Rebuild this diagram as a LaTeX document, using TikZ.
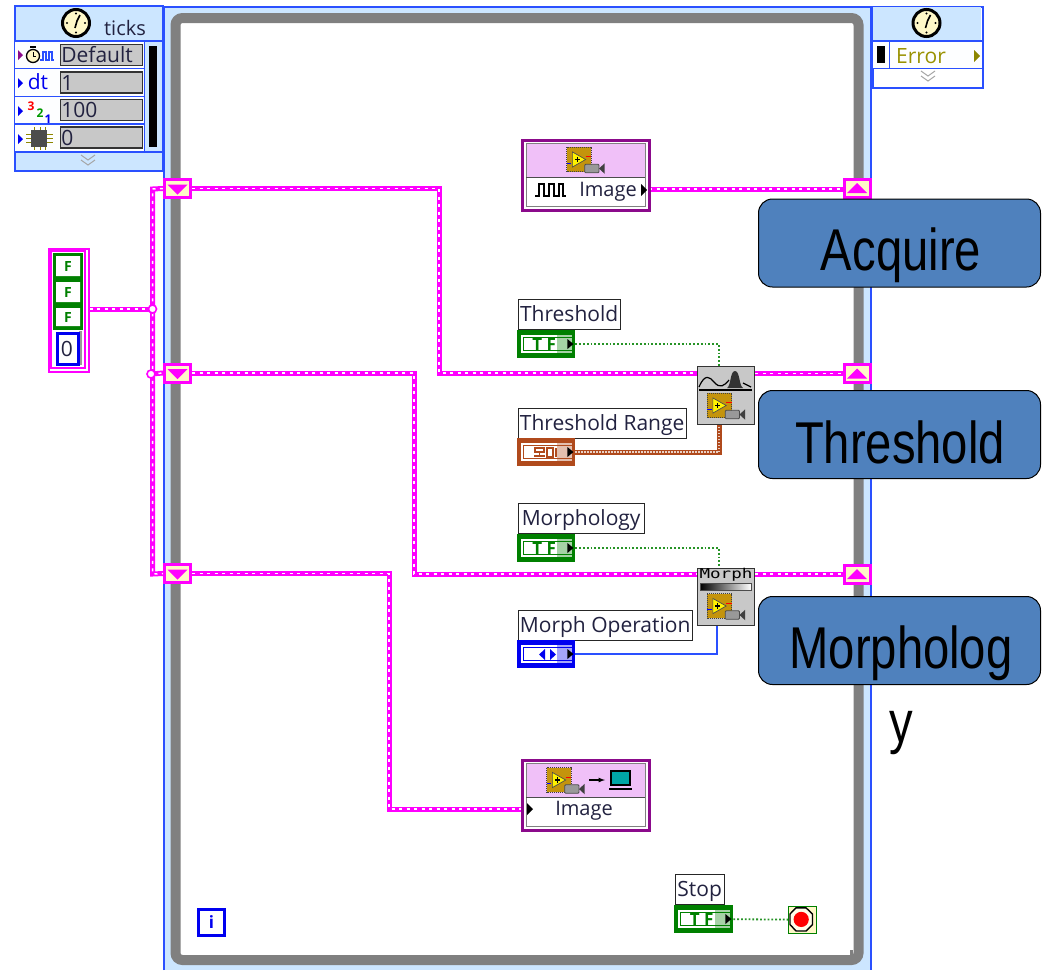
\documentclass[tikz,border=0pt]{standalone}
\usepackage{fontspec}
\setmainfont{Open Sans}
\newfontfamily\bigf[FakeStretch=0.80]{Liberation Sans}
\newfontfamily\monof{DejaVu Sans Mono}
\usetikzlibrary{calc,shadings}
\definecolor{lvblue}{HTML}{2A50FF}
\definecolor{lvlight}{HTML}{CCE6FF}
\definecolor{lvgray}{HTML}{808080}
\definecolor{wirepink}{HTML}{FF00FF}
\definecolor{lvgreen}{HTML}{008000}
\definecolor{lvbrown}{HTML}{B04A1C}
\definecolor{lvpure}{HTML}{0000F0}
\definecolor{lvcream}{HTML}{FFF8C8}
\definecolor{blockpurple}{HTML}{8B0A8B}
\definecolor{blockpink}{HTML}{F0C0F8}
\definecolor{boxfill}{HTML}{4F81BD}
\definecolor{lvtext}{HTML}{222240}
\definecolor{valgray}{HTML}{C8C8C8}
\definecolor{chipgold}{HTML}{C4940C}
\pgfdeclarelayer{back}
\pgfsetlayers{back,main}
\tikzset{
  pinkwire/.style={draw=wirepink,line width=5pt,miter limit=10,
    postaction={draw=white,line width=1.5pt,dash pattern=on 3pt off 4.5pt}},
  brownwire/.style={draw=lvbrown,line width=5pt,
    postaction={draw=white!75!lvbrown,line width=1.5pt,dash pattern=on 1.3pt off 1.7pt}},
  greenwire/.style={draw=lvgreen!85!white,line width=1.8pt,dash pattern=on 1.8pt off 2pt},
  bluewire/.style={draw=lvblue,line width=2pt},
  lbl/.style={draw=black!85,fill=white,line width=1.3pt,anchor=north west,inner xsep=.5pt,inner ysep=0pt,
    minimum height=30pt,text=lvtext,font=\fontsize{21}{24}\selectfont,align=left,text height=19pt,text depth=5pt},
  tunnel/.style={draw=wirepink,fill=lvcream,line width=3pt,minimum width=26pt,minimum height=18pt,inner sep=0pt},
  vibox/.style={draw=black!80,fill=valgray,line width=1.6pt,anchor=west,inner sep=1pt,minimum width=82pt,
    minimum height=21pt,text=lvtext,font=\fontsize{21}{22}\selectfont,text width=80pt,text height=16pt,text depth=1pt},
  blockbox/.style={draw=blockpurple,line width=3pt,fill=white,minimum width=127pt,minimum height=70pt,inner sep=0pt},
  subvi/.style={draw=black!80,fill=valgray,line width=1.4pt,minimum width=57pt,inner sep=0pt},
  bluebox/.style={draw=black,fill=boxfill,line width=1pt,rounded corners=14pt,minimum width=282pt,minimum height=88pt,inner sep=0pt},
  bigtext/.style={text=black,font=\bigf\fontsize{59}{74}\selectfont,align=center,inner sep=0pt},
  chipcam/.pic={
    \fill[chipgold] (-13,-13) rectangle (13,13);
    \draw[black!75,line width=1.1pt,dash pattern=on 1pt off 1pt] (-13,-13) rectangle (13,13);
    \fill[yellow,draw=black!70,line width=.7pt] (-7,-8) -- (7,0) -- (-7,8) -- cycle;
    \fill[black] (-4.5,-.6) rectangle (1,.6); \fill[black] (-2.4,-3) rectangle (-1.2,3);
    \draw[red,line width=1pt] (7,-3) -- (13,-3);
    \draw[blue,line width=1pt] (-13,4) -- (-8,4);
    \fill[black!40,draw=black!70,line width=.8pt,rounded corners=1pt] (6,5) rectangle (21,14);
    \fill[black!75] (21,9.5) -- (27,4) -- (27,15) -- cycle;
  },
  clockicon/.pic={
    \draw[black,fill=lvcream,line width=3pt] (0,0) circle (13.5pt);
    \draw[black,line width=1.6pt] (-1,5) -- (1,-2) -- (4,-8);
    \fill[black] (-9,0) circle (1.1pt) (9,0) circle (1.1pt) (0,9.5) circle (1.1pt) (0,-9.5) circle (1.1pt);
  },
  chevrons/.pic={
    \draw[black!35,line width=1pt] (-7,-6) -- (0,-1) -- (7,-6) (-7,-1) -- (0,4) -- (7,-1);
  },
}
\newcommand{\lvterm}[6]{%
  \node[anchor=north west,fill=#5,inner sep=0pt,minimum width=#4pt,minimum height=28pt] (#1) at (#2,#3) {};
  \fill[white] ([shift={(4,5)}]#1.north west) rectangle ([shift={(-3,-5)}]#1.south east);
  \draw[#5,line width=1pt] ([shift={(6.5,7.5)}]#1.north west) rectangle ([shift={(-3,-7.5)}]#1.south east);
  \node[text=#5,inner sep=0pt,font=\bfseries\fontsize{17}{17}\selectfont] (#1val) at ([xshift=-2pt]#1.center) {#6};
  \fill[#5,opacity=.35] ([shift={(-18,4)}]#1.north east) rectangle ([shift={(-3,-4)}]#1.south east);
  \fill[black] ([shift={(-8,9)}]#1.north east) -- ([shift={(-2,14)}]#1.north east) -- ([shift={(-8,19)}]#1.north east) -- cycle;
}
\begin{document}
\begin{tikzpicture}[x=1pt,y=-1pt]
\useasboundingbox (0,0) rectangle (1044,970);
\begin{pgfonlayer}{back}
  % sequence frame
  \fill[white] (0,0) rectangle (1044,970);
  \fill[lvlight] (164,7) rectangle (871,970);
  \draw[lvblue,line width=2pt] (164,970) -- (164,7) -- (871,7) -- (871,970);
  \fill[white] (175,18) rectangle (859,960);
  \draw[lvgray,line width=10pt,rounded corners=7pt] (175.5,18) rectangle (858.5,960);
  \fill[white] (846,948) rectangle (853,950);
  \fill[lvgray] (850,950) rectangle (853,955);
\end{pgfonlayer}

% ticks node
\node[anchor=north west,draw=lvblue,fill=lvlight,line width=1.6pt,minimum width=148pt,minimum height=165pt,inner sep=0pt] (ticks) at (14,5) {};
\fill[white!96!lvlight] (15,42) rectangle (144,152);
\draw[lvblue,line width=1.4pt] (15,41) -- (162,41) (15,68.5) -- (144,68.5) (15,96.5) -- (144,96.5) (15,124) -- (144,124) (15,152) -- (162,152) (144.5,41) -- (144.5,152);
\fill[black] (149,46) rectangle (157,147);
\path (76,23) pic {clockicon};
\node[text=lvtext,inner sep=0pt,font=\fontsize{20}{22}\selectfont] (tickstxt) at (125,28) {ticks};
\path (88,161) pic {chevrons};
\node[vibox] (v1) at (59.5,55) {Default};
\node[vibox] (v2) at (59.5,82.5) {1};
\node[vibox] (v3) at (59.5,110) {100};
\node[vibox] (v4) at (59.5,137.5) {0};
% ticks row icons
\fill[blockpurple] (18,50) -- (23,55) -- (18,60) -- cycle;
\draw[black,fill=lvcream,line width=1.3pt] (33,56) circle (6.5pt);
\fill[black] (30,46) rectangle (36,48);
\draw[black,line width=1pt] (33,52) -- (33,56) -- (36,56);
\draw[lvblue,line width=1.3pt] (40,60) -- (43,60) -- (43,52) -- (46,52) -- (46,60) -- (49,60) -- (49,52) -- (52,52) -- (52,60) -- (54,60);
\fill[lvpure] (18,78) -- (23,83) -- (18,88) -- cycle;
\node[text=lvpure,inner sep=0pt,font=\fontsize{21}{22}\selectfont] (dttxt) at (38,82) {dt};
\fill[lvpure] (18,106) -- (23,111) -- (18,116) -- cycle;
\node[text=red,inner sep=0pt,font=\bfseries\fontsize{12}{12}\selectfont] (n3) at (31,106) {3};
\node[text=green!60!black,inner sep=0pt,font=\bfseries\fontsize{12}{12}\selectfont] (n2) at (40,113) {2};
\node[text=lvpure,inner sep=0pt,font=\bfseries\fontsize{12}{12}\selectfont] (n1) at (48,119) {1};
\fill[lvpure] (18,134) -- (23,139) -- (18,144) -- cycle;
\draw[olive,line width=1pt] (26,134) -- (53,134) (26,138) -- (53,138) (26,142) -- (53,142) (34,127) -- (34,150) (40,127) -- (40,150) (45,127) -- (45,150);
\fill[black!70] (31,130) rectangle (47,147);

% error node
\node[anchor=north west,draw=lvblue,fill=white,line width=1.6pt,minimum width=110pt,minimum height=81pt,inner sep=0pt] (errbox) at (872,6) {};
\fill[lvlight] (873,7) rectangle (981,41);
\fill[white!96!lvlight] (873,42) rectangle (981,68);
\draw[lvblue,line width=1.4pt] (872,41) -- (982,41) (872,68.5) -- (982,68.5) (889.5,41) -- (889.5,68.5);
\fill[black] (877,46) rectangle (885,63);
\path (926.5,23) pic {clockicon};
\node[anchor=west,text=olive!90!yellow,inner sep=0pt,font=\fontsize{21}{24}\selectfont] (errtxt) at (896,56) {Error};
\fill[olive] (974,50) -- (980,56) -- (974,62) -- cycle;
\path (928,77) pic {chevrons};

% tunnels
\node[tunnel] (t1) at (177.5,188.5) {};
\node[tunnel] (t2) at (177.5,373) {};
\node[tunnel] (t3) at (177.5,573.5) {};
\node[tunnel] (r1) at (857,188) {};
\node[tunnel] (r2) at (857,373.5) {};
\node[tunnel] (r3) at (857,574) {};
\foreach \n in {t1,t2,t3}{\fill[wirepink] ([shift={(-10,-4)}]\n.center) -- ([shift={(10,-4)}]\n.center) -- ([shift={(0,6)}]\n.center) -- cycle;}
\foreach \n in {r1,r2,r3}{\fill[wirepink] ([shift={(-10,5)}]\n.center) -- ([shift={(10,5)}]\n.center) -- ([shift={(0,-5)}]\n.center) -- cycle;}

% bundle constant
\node[anchor=north west,draw=wirepink,fill=white,line width=1.6pt,minimum width=40pt,minimum height=123pt,inner sep=0pt] (bundle) at (48,248) {};
\draw[wirepink,line width=1.2pt] (51,251) rectangle (85,368);
\fill[lvgreen] (53,253) rectangle (83,330);
\fill[white] (56,256) rectangle (80,276) (56,282) rectangle (80,302) (56,308) rectangle (80,326);
\node[text=lvgreen,inner sep=0pt,font=\bfseries\fontsize{14}{14}\selectfont] (f1) at (68,266) {F};
\node[text=lvgreen,inner sep=0pt,font=\bfseries\fontsize{14}{14}\selectfont] (f2) at (68,292) {F};
\node[text=lvgreen,inner sep=0pt,font=\bfseries\fontsize{14}{14}\selectfont] (f3) at (68,317) {F};
\fill[black!40] (79,331) rectangle (82,365);
\draw[lvpure,fill=white,line width=3pt] (57,333) rectangle (78,364);
\node[text=lvtext,inner sep=0pt,font=\fontsize{21}{22}\selectfont] (zero) at (67,349) {0};

% junctions
\node[circle,draw=wirepink,fill=white,line width=1.6pt,minimum size=8pt,inner sep=0pt] (j1) at (152.5,309) {};
\node[circle,draw=wirepink,fill=white,line width=1.6pt,minimum size=8pt,inner sep=0pt] (j2) at (151,374) {};
\coordinate (vtop) at (152.5,189);
\coordinate (vbot) at (152.5,574);

% acquire block
\node[blockbox,anchor=north west] (acq) at (521,139) {};
\fill[blockpink] (526,143) rectangle (645,177);
\draw[black!50,line width=1pt] (526,143) rectangle (645,206);
\draw[black!70,line width=1pt] (526,177) -- (645,177);
\path (579,159.5) pic[scale=.95] {chipcam};
\draw[black,line width=1.3pt] (535,196) -- (539,196) -- (539,184) -- (544,184) -- (544,196) -- (549,196) -- (549,184) -- (554,184) -- (554,196) -- (559,196) -- (559,184) -- (563,184) -- (563,196) -- (566,196);
\node[text=lvtext,inner sep=0pt,font=\fontsize{20}{22}\selectfont] (acqtxt) at (608,192) {Image};
\fill[black] (641,184) -- (647,190) -- (641,196) -- cycle;
\coordinate (acqout) at (649,189);

% display block
\node[blockbox,anchor=north west] (dsp) at (521,759) {};
\fill[blockpink] (526,763) rectangle (645,797);
\draw[black!50,line width=1pt] (526,763) rectangle (645,826);
\draw[black!70,line width=1pt] (526,797) -- (645,797);
\path (559,780) pic[scale=.95] {chipcam};
\draw[black,line width=1.2pt,-latex] (589,780) -- (605,780);
\draw[black,fill=teal!70!cyan,line width=1.3pt] (611,771) rectangle (630,785);
\draw[black,line width=1.3pt] (609,789) -- (632,789);
\node[text=lvtext,inner sep=0pt,font=\fontsize{20}{22}\selectfont] (dsptxt) at (584,811) {Image};
\fill[black] (527,803) -- (533,809) -- (527,815) -- cycle;
\coordinate (dspin) at (521,809);

% threshold
\node[lbl,minimum width=102pt] (lThr) at (517.5,298.5) {Threshold};
\lvterm{tThr}{517}{330}{58}{lvgreen}{T F}
\node[lbl,minimum width=168pt] (lRng) at (517.5,407.5) {Threshold Range};
\lvterm{tRng}{517}{438}{58}{lvbrown}{}
\draw[lvbrown,line width=1.1pt] (535,448) rectangle (544,452) (539.5,452) -- (539.5,455) (534,456) -- (545,456) (547,448) rectangle (553,457) (556,448) -- (556,457);
\node[subvi,anchor=north west,minimum height=58pt] (thr) at (697,366) {};
\draw[black,line width=1.2pt] (699,387) .. controls (705,373) and (710,377) .. (714,382) .. controls (720,389) and (724,386) .. (729,380);
\fill[black!80] (727,388) .. controls (731,386) and (730,371) .. (735,371) .. controls (740,371) and (739,386) .. (743,388) -- cycle;
\draw[black,line width=1.2pt] (743,383) -- (751,387);
\draw[black,line width=1.5pt] (699,390) -- (752,390);
\path (719.5,405.5) pic[scale=.95] {chipcam};
\coordinate (thrin) at (719,366);
\coordinate (rngin) at (719,424);

% morphology
\node[lbl,minimum width=126pt] (lMor) at (517.5,502.5) {Morphology};
\lvterm{tMor}{517}{534}{58}{lvgreen}{T F}
\node[lbl,minimum width=174pt] (lOp) at (517.5,609.5) {Morph Operation};
\lvterm{tOp}{517}{640}{58}{lvpure}{}
\fill[lvpure] (545,649) -- (539,654.5) -- (545,660) -- cycle (550,649) -- (556,654.5) -- (550,660) -- cycle;
\node[subvi,anchor=north west,minimum height=57pt] (mor) at (697,567.5) {};
\node[inner sep=0pt,text=black,font=\monof\fontsize{13.5}{14}\selectfont] (mortxt) at (726,574.5) {\scalebox{1.3}[1]{Morph}};
\shade[left color=black,right color=white,draw=black!70,line width=.7pt] (700,583) rectangle (751,590);
\path (719.5,606) pic[scale=.95] {chipcam};
\coordinate (morin) at (719,567);
\coordinate (opin) at (717,625);

% stop
\node[lbl,minimum width=49pt] (lStop) at (674.5,874) {Stop};
\lvterm{tStop}{674}{905}{59}{lvgreen}{T F}
\node[anchor=north west,draw=lvgreen,fill=lvcream,line width=1.2pt,minimum width=28pt,minimum height=27pt,inner sep=0pt] (stopc) at (788,905.5) {};
\draw[black,fill=white!60!lvcream,line width=1.4pt] (796,907.8) -- (806,907.8) -- (812.5,914) -- (812.5,924.5) -- (806,931) -- (796,931) -- (790,924.5) -- (790,914) -- cycle;
\fill[red] (801.2,919.4) circle (7.6pt);

% iteration terminal
\node[anchor=north west,draw=lvpure,fill=white,line width=3pt,minimum width=26pt,minimum height=26pt,inner sep=0pt,text=lvpure,font=\bfseries\fontsize{17}{18}\selectfont] (iter) at (197,907.5) {i};

% wires
\begin{pgfonlayer}{back}
  \draw[pinkwire] (bundle.east |- j1) -- (j1.center);
  \draw[pinkwire] (t1.west) -- (vtop) -- (vbot) -- (t3.west);
  \draw[pinkwire] (j2.center) -- (t2.west);
  \draw[pinkwire] (t1.east) -- (439,188.5) |- (thr.west |- t2);
  \draw[pinkwire] (thr.east |- r2) -- (r2.west);
  \draw[pinkwire] (t2.east) -- (414,373) |- (mor.west |- r3);
  \draw[pinkwire] (mor.east |- r3) -- (r3.west);
  \draw[pinkwire] (t3.east) -- (389,573.5) |- (dspin);
  \draw[pinkwire] (acqout) -- (r1.west |- acqout);
  \draw[greenwire] (tThr.east) -| (thrin);
  \draw[brownwire] (tRng.east) -| (rngin);
  \draw[greenwire] (tMor.east) -| (morin);
  \draw[bluewire] (tOp.east) -| (opin);
  \draw[greenwire] (tStop.east) -- (stopc.west);
\end{pgfonlayer}

% callouts
\node[bluebox,anchor=north west] (bA) at (758,198.5) {};
\node[bluebox,anchor=north west] (bT) at (758,390) {};
\node[bluebox,anchor=north west] (bM) at (758,596) {};
\node[bigtext] (xA) at (901,255) {Acquire};
\node[bigtext] (xT) at (900,442) {Threshold};
\node[bigtext,anchor=north] (xM) at (901,626) {Morpholog\\y};
\end{tikzpicture}
\end{document}
